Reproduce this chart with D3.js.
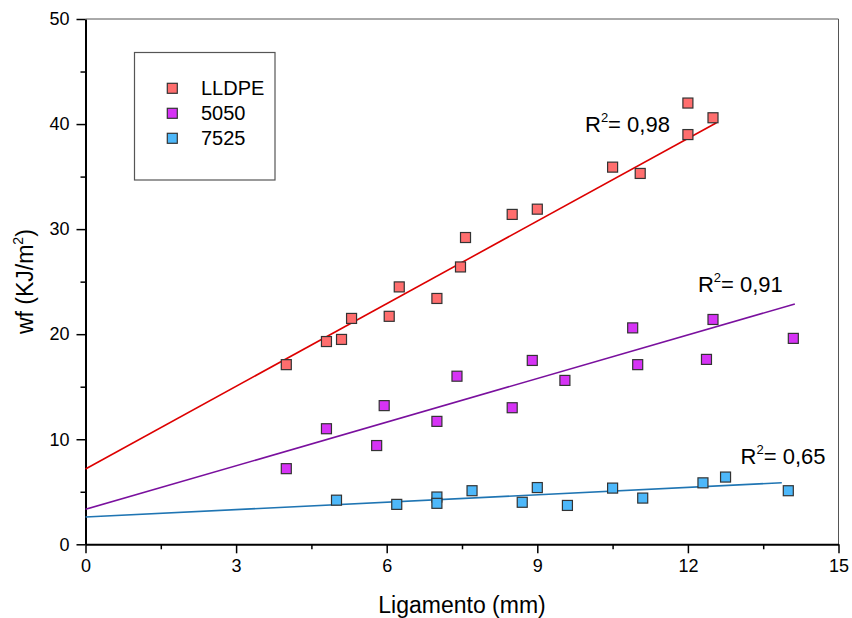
<!DOCTYPE html>
<html><head><meta charset="utf-8">
<script src="https://cdn.jsdelivr.net/npm/d3@7"></script>
<style>
html,body{margin:0;padding:0;background:#fff;}
text{font-family:"Liberation Sans",Arial,Helvetica,sans-serif;fill:#000;}
</style></head><body>
<svg id="c" width="852" height="618"></svg>
<script>
// ---- data ----
const seriesNames = ["LLDPE", "5050", "7525"];
const lldpeX = [4.0, 4.8, 5.1, 5.3, 6.05, 6.25, 7.0, 7.47, 7.57, 8.5, 9.0, 10.5, 11.05, 12.0, 12.0, 12.5];
const lldpeY = [17.1, 19.3, 19.5, 21.5, 21.7, 24.5, 23.4, 26.4, 29.2, 31.4, 31.9, 35.9, 35.3, 42.0, 39.0, 40.6];
const b5050X = [4.0, 4.8, 5.8, 5.95, 7.0, 7.4, 8.5, 8.9, 9.55, 10.9, 11.0, 12.37, 12.5, 14.1];
const b5050Y = [7.2, 11.0, 9.4, 13.2, 11.7, 16.0, 13.0, 17.5, 15.6, 20.6, 17.1, 17.6, 21.4, 19.6];
const b7525X = [5.0, 6.2, 7.0, 7.0, 7.7, 8.7, 9.0, 9.6, 10.5, 11.1, 12.3, 12.75, 14.0];
const b7525Y = [4.2, 3.8, 4.5, 3.9, 5.1, 4.0, 5.4, 3.7, 5.35, 4.4, 5.85, 6.4, 5.1];
// linear fits (intercept, slope, x range end)
const fitIntercept = [7.17, 3.33, 2.6];
const fitSlope = [2.622, 1.383, 0.235];
const fitXEnd = [12.57, 14.13, 13.87];
const r2Labels = ["0,98", "0,91", "0,65"];
const xTicks = [0, 3, 6, 9, 12, 15];
const xMinor = [1.5, 4.5, 7.5, 10.5, 13.5];
const yTicks = [0, 10, 20, 30, 40, 50];
const yMinor = [5, 15, 25, 35, 45];

const fills = ["#FF6E6E", "#D633F5", "#4DB8FA"];
const lineColors = ["#DD0000", "#7A109E", "#1F75B3"];

const svg = d3.select("#c");
const x = d3.scaleLinear().domain([0, 15]).range([85.5, 838.5]);
const y = d3.scaleLinear().domain([0, 50]).range([544.3, 19]);

// frame (top/right thin)
svg.append("line").attr("x1", x(0)).attr("x2", x(15)).attr("y1", y(50)).attr("y2", y(50))
  .attr("stroke", "#555").attr("stroke-width", 1);
svg.append("line").attr("x1", x(15)).attr("x2", x(15)).attr("y1", y(50)).attr("y2", y(0))
  .attr("stroke", "#555").attr("stroke-width", 1);

// axes
const gx = svg.append("g").attr("transform", `translate(0,${y(0)})`)
  .call(d3.axisBottom(x).tickValues(xTicks).tickSize(9).tickSizeOuter(0).tickPadding(6).tickFormat(d3.format("d")));
const gxm = svg.append("g").attr("transform", `translate(0,${y(0)})`)
  .call(d3.axisBottom(x).tickValues(xMinor).tickSize(5).tickSizeOuter(0).tickFormat(""));
gxm.select(".domain").remove();
const gy = svg.append("g").attr("transform", `translate(${x(0)},0)`)
  .call(d3.axisLeft(y).tickValues(yTicks).tickSize(9).tickSizeOuter(0).tickPadding(7).tickFormat(d3.format("d")));
const gym = svg.append("g").attr("transform", `translate(${x(0)},0)`)
  .call(d3.axisLeft(y).tickValues(yMinor).tickSize(5).tickSizeOuter(0).tickFormat(""));
gym.select(".domain").remove();
svg.selectAll(".domain").attr("stroke", "#000").attr("stroke-width", 2);
svg.selectAll(".tick line").attr("stroke", "#000").attr("stroke-width", 1.5);
svg.selectAll(".tick text").attr("font-size", 18).attr("font-family", '"Liberation Sans",Arial,sans-serif').attr("fill", "#000");

// fit lines
const lineGen = d3.line().x(d => x(d[0])).y(d => y(d[1]));
fitIntercept.forEach((b, i) => {
  const pts = [[0, b], [fitXEnd[i], b + fitSlope[i] * fitXEnd[i]]];
  svg.append("path").attr("d", lineGen(pts)).attr("fill", "none")
    .attr("stroke", lineColors[i]).attr("stroke-width", 1.6);
});

// points
const seriesX = [lldpeX, b5050X, b7525X];
const seriesY = [lldpeY, b5050Y, b7525Y];
const S = 10;
seriesX.forEach((xs, i) => {
  const data = xs.map((v, j) => [v, seriesY[i][j]]);
  svg.append("g").selectAll("rect").data(data).join("rect")
    .attr("x", d => x(d[0]) - S / 2).attr("y", d => y(d[1]) - S / 2)
    .attr("width", S).attr("height", S)
    .attr("fill", fills[i]).attr("stroke", "#333").attr("stroke-width", 1.2);
});

// R2 labels
const r2Pos = [[9.95, 39.2], [12.2, 24.0], [13.05, 7.65]]; // label anchor in data units
r2Labels.forEach((lab, i) => {
  const t = svg.append("text").attr("x", x(r2Pos[i][0])).attr("y", y(r2Pos[i][1])).attr("font-size", 22);
  t.append("tspan").text("R");
  t.append("tspan").attr("font-size", 13).attr("dy", -10).text("2");
  t.append("tspan").attr("dy", 10).text("= " + lab);
});

// legend
svg.append("rect").attr("x", 134.5).attr("y", 52.5).attr("width", 140.5).attr("height", 127.5)
  .attr("fill", "none").attr("stroke", "#555").attr("stroke-width", 1.2);
seriesNames.forEach((n, i) => {
  const cy = 88.3 + i * 25;
  svg.append("rect").attr("x", 172.3 - S / 2).attr("y", cy - S / 2).attr("width", S).attr("height", S)
    .attr("fill", fills[i]).attr("stroke", "#333").attr("stroke-width", 1.2);
  svg.append("text").attr("x", 201).attr("y", cy + 7).attr("font-size", 20).text(n);
});

// axis titles
svg.append("text").attr("x", (x(0) + x(15)) / 2).attr("y", 613).attr("text-anchor", "middle")
  .attr("font-size", 23).text("Ligamento (mm)");
const yt = svg.append("text").attr("transform", `translate(33,${y(25)}) rotate(-90)`)
  .attr("text-anchor", "middle").attr("font-size", 23);
yt.append("tspan").text("wf (KJ/m");
yt.append("tspan").attr("font-size", 14).attr("dy", -10).text("2");
yt.append("tspan").attr("dy", 10).text(")");
</script></body></html>
